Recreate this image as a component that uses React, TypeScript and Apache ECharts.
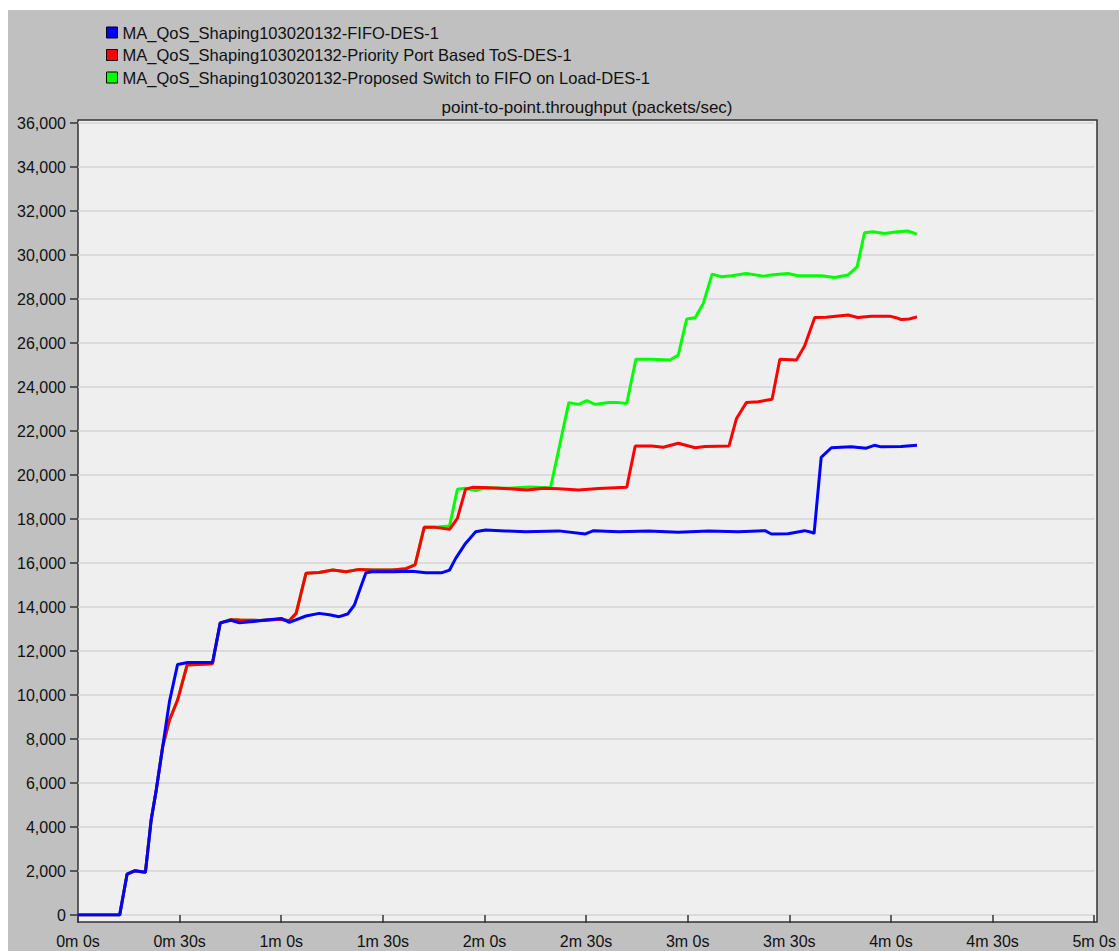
import React, { useEffect, useRef } from "react";
import * as echarts from "echarts";

const seriesNames = [
  "MA_QoS_Shaping103020132-FIFO-DES-1",
  "MA_QoS_Shaping103020132-Priority Port Based ToS-DES-1",
  "MA_QoS_Shaping103020132-Proposed Switch to FIFO on Load-DES-1",
];
const seriesColors = ["#0000ff", "#ff0000", "#00ff00"];

const yTicks = { min: 0, max: 36000, step: 2000 };
const xTicks = { min: 0, max: 300, step: 30 };

const blueT = [0, 12.3, 14.5, 16.7, 19.9, 21.6, 23.1, 25.0, 27.0, 29.4, 32.4, 39.7, 42.0, 45.1, 47.7, 53.6, 60.0, 62.4, 67.3, 71.2, 74.2, 77.1, 79.6, 81.6, 83.5, 85.0, 86.9, 92.8, 98.7, 102.7, 107.5, 109.7, 111.5, 114.4, 117.4, 120.3, 126.2, 132.1, 141.9, 149.8, 152.2, 159.6, 168.4, 177.2, 186.1, 194.9, 202.8, 204.7, 209.6, 214.5, 216.5, 217.3, 219.4, 222.4, 228.2, 232.7, 235.1, 237.1, 243.0, 247.7];
const blueV = [0, 0, 1860, 2010, 1940, 4320, 5680, 7650, 9700, 11390, 11480, 11480, 13280, 13400, 13280, 13370, 13480, 13300, 13590, 13710, 13650, 13560, 13680, 14090, 14920, 15560, 15600, 15600, 15620, 15560, 15560, 15680, 16210, 16890, 17420, 17500, 17460, 17420, 17460, 17320, 17470, 17420, 17460, 17400, 17450, 17420, 17470, 17320, 17330, 17470, 17400, 17340, 20800, 21240, 21280, 21220, 21350, 21280, 21300, 21350];

const redT = [0, 12.3, 14.5, 16.7, 19.9, 21.6, 23.1, 25.0, 27.0, 29.4, 32.2, 39.7, 42.0, 45.1, 47.7, 53.6, 59.5, 62.4, 64.4, 67.3, 71.2, 75.2, 79.1, 83.0, 86.9, 92.8, 96.8, 99.5, 102.2, 105.6, 109.7, 112.0, 114.4, 116.4, 121.3, 127.2, 132.6, 137.5, 141.9, 147.8, 153.7, 162.0, 164.5, 169.4, 172.8, 177.2, 182.2, 185.1, 192.2, 194.4, 197.3, 200.8, 204.9, 207.2, 212.1, 214.5, 217.5, 220.9, 227.3, 230.2, 234.1, 239.6, 241.5, 243.0, 245.4, 247.7];
const redV = [0, 0, 1860, 2010, 1940, 4320, 5680, 7650, 8860, 9770, 11360, 11420, 13280, 13420, 13410, 13390, 13440, 13380, 13710, 15530, 15570, 15680, 15600, 15710, 15680, 15680, 15740, 15910, 17620, 17620, 17530, 18030, 19350, 19440, 19420, 19380, 19320, 19400, 19380, 19320, 19390, 19440, 21320, 21320, 21260, 21440, 21240, 21300, 21320, 22570, 23290, 23330, 23440, 25260, 25230, 25860, 27160, 27170, 27270, 27160, 27220, 27220, 27150, 27070, 27090, 27190];

const greenT = [0, 12.3, 14.5, 16.7, 19.9, 21.6, 23.1, 25.0, 27.0, 29.4, 32.2, 39.7, 42.0, 45.1, 47.7, 53.6, 59.5, 62.4, 64.4, 67.3, 71.2, 75.2, 79.1, 83.0, 86.9, 92.8, 96.8, 99.5, 102.2, 105.6, 109.7, 112.0, 114.4, 117.4, 120.3, 127.2, 133.1, 139.5, 144.9, 147.8, 150.2, 152.7, 156.6, 159.6, 162.0, 164.7, 169.4, 174.8, 177.2, 179.7, 182.2, 184.6, 187.2, 190.0, 192.9, 197.3, 202.3, 205.2, 209.6, 212.6, 219.4, 223.4, 227.3, 230.0, 232.2, 234.6, 238.1, 242.0, 244.9, 247.7];
const greenV = [0, 0, 1860, 2010, 1940, 4320, 5680, 7650, 8860, 9770, 11360, 11420, 13280, 13420, 13410, 13390, 13440, 13380, 13710, 15530, 15570, 15680, 15600, 15710, 15680, 15680, 15740, 15910, 17620, 17620, 17680, 19350, 19400, 19290, 19420, 19400, 19450, 19420, 23290, 23210, 23380, 23210, 23300, 23290, 23250, 25260, 25260, 25230, 25450, 27090, 27150, 27800, 29130, 29010, 29060, 29160, 29040, 29100, 29160, 29060, 29060, 28980, 29090, 29460, 31010, 31060, 30980, 31060, 31090, 30950];

const titleText = "point-to-point.throughput (packets/sec)";

const FONT = "'Liberation Sans', Arial, sans-serif";

const zip = (t: number[], v: number[]) => t.map((x, i) => [x, v[i]]);
const fmtTime = (v: number) => `${Math.floor(v / 60)}m ${Math.round(v % 60)}s`;

export default function App() {
  const ref = useRef<HTMLDivElement>(null);
  useEffect(() => {
    if (!ref.current) return;
    const chart = echarts.init(ref.current, null, { renderer: "svg" });
    const seriesData = [zip(blueT, blueV), zip(redT, redV), zip(greenT, greenV)];
    const order = [2, 1, 0];
    chart.setOption({
      animation: false,
      backgroundColor: "#c0c0c0",
      textStyle: { fontFamily: FONT },
      legend: {
        data: seriesNames,
        orient: "vertical",
        left: 93,
        top: 9,
        icon: "rect",
        itemWidth: 11,
        itemHeight: 11,
        itemGap: 5.5,
        selectedMode: false,
        itemStyle: { borderColor: "#000", borderWidth: 1 },
        textStyle: { fontFamily: FONT, fontSize: 16.5, color: "#111", lineHeight: 16 },
      },
      graphic: [
        {
          type: "text",
          x: 579,
          y: 97,
          style: {
            text: titleText,
            fill: "#111",
            font: `17px ${FONT}`,
            textAlign: "center",
            textVerticalAlign: "middle",
          },
        },
      ],
      grid: [
        {
          left: 70,
          right: 22,
          top: 110,
          bottom: 29,
          show: true,
          backgroundColor: "#efefef",
          borderColor: "#333",
          borderWidth: 1.5,
        },
        { left: 70, right: 22, top: 113, bottom: 36, show: false },
      ],
      xAxis: [
        { gridIndex: 0, type: "value", show: false, min: 0, max: 1 },
        {
          gridIndex: 1,
          type: "value",
          min: xTicks.min,
          max: xTicks.max,
          interval: xTicks.step,
          offset: 7,
          axisLine: { show: false },
          axisTick: { show: true, length: 8, lineStyle: { color: "#333", width: 1.5 } },
          axisLabel: {
            margin: 11,
            fontSize: 16,
            fontFamily: FONT,
            color: "#111",
            formatter: (v: number) => fmtTime(v),
          },
          splitLine: { show: false },
        },
      ],
      yAxis: [
        { gridIndex: 0, type: "value", show: false, min: 0, max: 1 },
        {
          gridIndex: 1,
          type: "value",
          min: yTicks.min,
          max: yTicks.max,
          interval: yTicks.step,
          axisLine: { show: false },
          axisTick: { show: true, length: 8, lineStyle: { color: "#333", width: 1.5 } },
          axisLabel: {
            margin: 12,
            fontSize: 16,
            fontFamily: FONT,
            color: "#111",
            formatter: (v: number) => v.toLocaleString("en-US"),
          },
          splitLine: { show: true, lineStyle: { color: "#d4d4d4", width: 1.5 } },
        },
      ],
      series: order.map((i) => ({
        name: seriesNames[i],
        type: "line",
        xAxisIndex: 1,
        yAxisIndex: 1,
        data: seriesData[i],
        showSymbol: false,
        symbol: "none",
        color: seriesColors[i],
        lineStyle: { color: seriesColors[i], width: 3 },
      })),
    });
    return () => chart.dispose();
  }, []);
  return (
    <div
      ref={ref}
      style={{ position: "absolute", left: 8, top: 10, width: 1111, height: 941 }}
    />
  );
}
